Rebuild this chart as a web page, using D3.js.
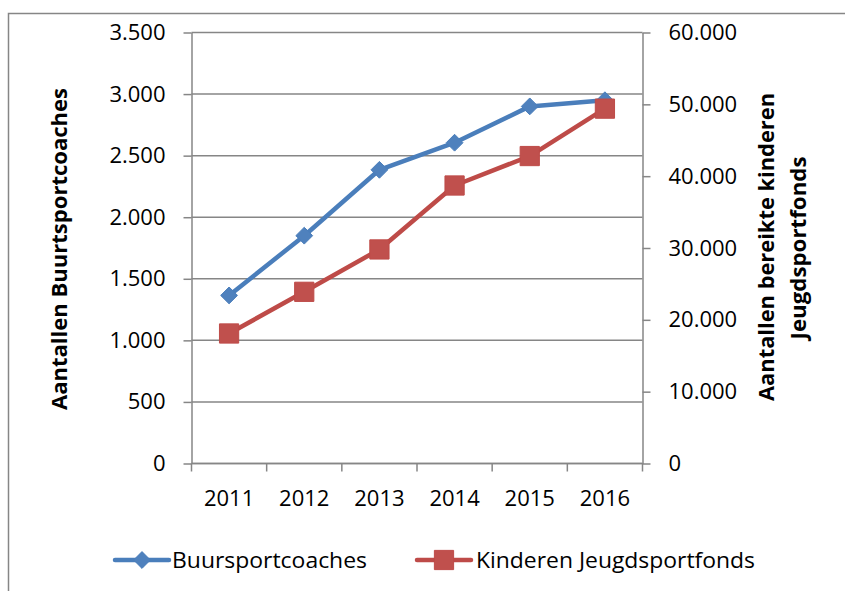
<!DOCTYPE html>
<html>
<head>
<meta charset="utf-8">
<script src="https://cdn.jsdelivr.net/npm/d3@7"></script>
<style>
  body { margin: 0; background: #fff; }
  text { font-family: "Open Sans", "Noto Sans", sans-serif; fill: #000; }
</style>
</head>
<body>
<div id="chart"></div>
<script>
const years = ["2011", "2012", "2013", "2014", "2015", "2016"];
const buurtsportcoaches = [1365, 1850, 2385, 2605, 2900, 2950];
const kinderen = [18100, 23900, 29800, 38700, 42800, 49400];
const leftTicks = [0, 500, 1000, 1500, 2000, 2500, 3000, 3500];
const rightTicks = [0, 10000, 20000, 30000, 40000, 50000, 60000];

const width = 845, height = 591;
const plot = { left: 191.5, right: 642.5, top: 32.5, bottom: 463.5 };
const gridCol = "#868686";
const blue = "#4a7ebb", red = "#be4b48";

const nl = d3.formatLocale({ decimal: ",", thousands: ".", grouping: [3], currency: ["€", ""] });
const fmt = nl.format(",");

const svg = d3.select("#chart").append("svg")
  .attr("width", width).attr("height", height);

// outer chart border
svg.append("rect")
  .attr("x", 8.5).attr("y", 13.5)
  .attr("width", 900).attr("height", 700)
  .attr("fill", "none").attr("stroke", gridCol).attr("stroke-width", 1.5);

const x = d3.scaleBand().domain(years).range([plot.left, plot.right]).padding(0);
const yL = d3.scaleLinear().domain([0, 3500]).range([plot.bottom, plot.top]);
const yR = d3.scaleLinear().domain([0, 60000]).range([plot.bottom, plot.top]);

// gridlines
svg.append("g").selectAll("line").data(leftTicks).enter().append("line")
  .attr("x1", plot.left).attr("x2", plot.right)
  .attr("y1", d => yL(d)).attr("y2", d => yL(d))
  .attr("stroke", gridCol).attr("stroke-width", 1.5);

function styleAxis(g) {
  g.select(".domain").attr("stroke", gridCol).attr("stroke-width", 1.5);
  g.selectAll(".tick line").attr("stroke", gridCol).attr("stroke-width", 1.5);
  g.selectAll("text").attr("font-size", 22).attr("font-family", null).attr("fill", "#000");
}

svg.append("g")
  .attr("transform", `translate(${plot.left},0)`)
  .call(d3.axisLeft(yL).tickValues(leftTicks).tickFormat(fmt).tickSize(8).tickSizeOuter(0).tickPadding(18))
  .call(styleAxis);

svg.append("g")
  .attr("transform", `translate(${plot.right},0)`)
  .call(d3.axisRight(yR).tickValues(rightTicks).tickFormat(fmt).tickSize(8).tickSizeOuter(0).tickPadding(18))
  .call(styleAxis);

// x axis: labels at centres, ticks at category boundaries
const xg = svg.append("g")
  .attr("transform", `translate(0,${plot.bottom})`)
  .call(d3.axisBottom(x).tickSize(0).tickSizeOuter(0).tickPadding(27))
  .call(styleAxis);
xg.select(".domain").remove();
svg.append("line")
  .attr("x1", plot.left).attr("x2", plot.right)
  .attr("y1", plot.bottom).attr("y2", plot.bottom)
  .attr("stroke", gridCol).attr("stroke-width", 1.5);
const bounds = years.map(d => x(d)).concat([x(years[years.length - 1]) + x.step()]);
svg.append("g").selectAll("line").data(bounds).enter().append("line")
  .attr("x1", d => d).attr("x2", d => d)
  .attr("y1", plot.bottom).attr("y2", plot.bottom + 8)
  .attr("stroke", gridCol).attr("stroke-width", 1.5);

const cx = d => x(d) + x.bandwidth() / 2;

// series
const lineL = d3.line().x((d, i) => cx(years[i])).y(d => yL(d));
const lineR = d3.line().x((d, i) => cx(years[i])).y(d => yR(d));

svg.append("path").datum(buurtsportcoaches)
  .attr("d", lineL).attr("fill", "none").attr("stroke", blue)
  .attr("stroke-width", 4.5).attr("stroke-linejoin", "round");
svg.append("path").datum(kinderen)
  .attr("d", lineR).attr("fill", "none").attr("stroke", red)
  .attr("stroke-width", 4.5).attr("stroke-linejoin", "round");

const diamond = d3.symbol().type(d3.symbolDiamond2).size(180);
const square = d3.symbol().type(d3.symbolSquare).size(370);

svg.append("g").selectAll("path").data(buurtsportcoaches).enter().append("path")
  .attr("d", diamond)
  .attr("transform", (d, i) => `translate(${cx(years[i])},${yL(d)})`)
  .attr("fill", "#4f81bd").attr("stroke", blue).attr("stroke-width", 1);

svg.append("g").selectAll("path").data(kinderen).enter().append("path")
  .attr("d", square)
  .attr("transform", (d, i) => `translate(${cx(years[i])},${yR(d)})`)
  .attr("fill", "#c0504d").attr("stroke", red).attr("stroke-width", 1);

// axis titles
svg.append("text")
  .attr("transform", "translate(67,249) rotate(-90)")
  .attr("text-anchor", "middle")
  .attr("font-size", 21).attr("font-weight", "bold")
  .attr("textLength", 322).attr("lengthAdjust", "spacingAndGlyphs")
  .text("Aantallen Buurtsportcoaches");

svg.append("text")
  .attr("transform", "translate(774,247) rotate(-90)")
  .attr("text-anchor", "middle")
  .attr("font-size", 21).attr("font-weight", "bold")
  .attr("textLength", 308).attr("lengthAdjust", "spacingAndGlyphs")
  .text("Aantallen bereikte kinderen");

svg.append("text")
  .attr("transform", "translate(806,248) rotate(-90)")
  .attr("text-anchor", "middle")
  .attr("font-size", 21).attr("font-weight", "bold")
  .attr("textLength", 183).attr("lengthAdjust", "spacingAndGlyphs")
  .text("Jeugdsportfonds");

// legend
const legendY = 560;
const legend = [
  { name: "Buursportcoaches", color: blue, fill: "#4f81bd", sym: diamond, x0: 115, x1: 169, tx: 172, tl: 195 },
  { name: "Kinderen Jeugdsportfonds", color: red, fill: "#c0504d", sym: square, x0: 417, x1: 471, tx: 476, tl: 279 }
];
const lg = svg.append("g").selectAll("g").data(legend).enter().append("g");
lg.append("line")
  .attr("x1", d => d.x0).attr("x2", d => d.x1)
  .attr("y1", legendY).attr("y2", legendY)
  .attr("stroke", d => d.color).attr("stroke-width", 4.5).attr("stroke-linecap", "round");
lg.append("path")
  .attr("d", d => d.sym())
  .attr("transform", d => `translate(${(d.x0 + d.x1) / 2},${legendY})`)
  .attr("fill", d => d.fill).attr("stroke", d => d.color);
lg.append("text")
  .attr("x", d => d.tx).attr("y", legendY + 8)
  .attr("font-size", 22)
  .attr("textLength", d => d.tl).attr("lengthAdjust", "spacingAndGlyphs")
  .text(d => d.name);
</script>
</body>
</html>
